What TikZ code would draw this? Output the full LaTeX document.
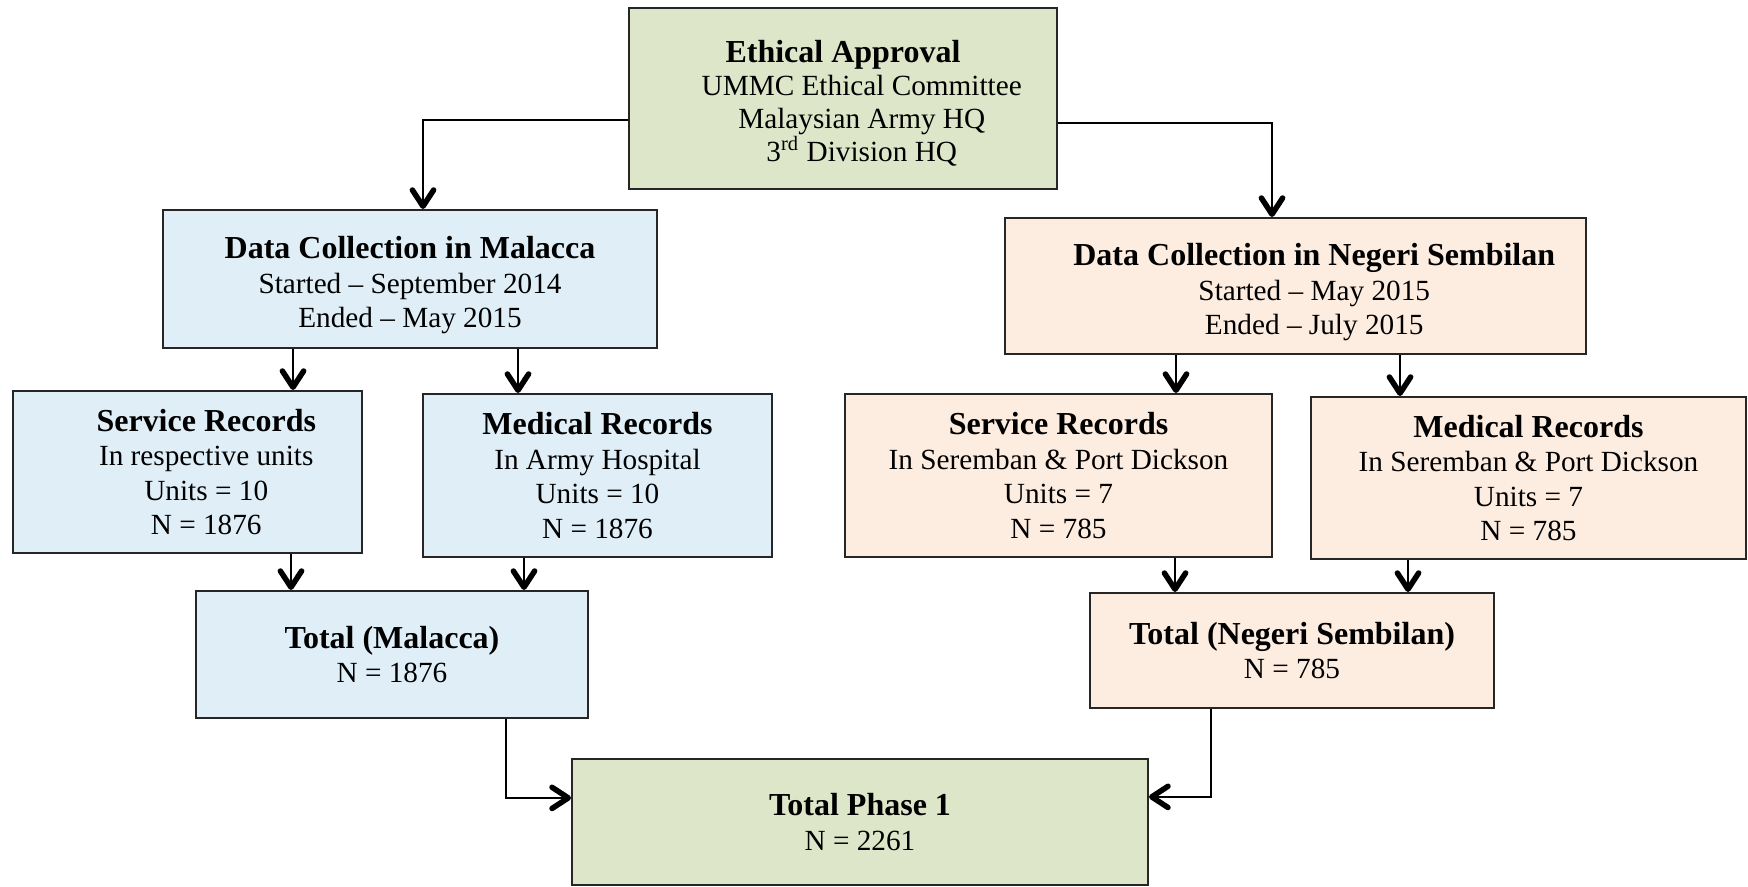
\documentclass[tikz,border=0pt]{standalone}
\usepackage{fontspec}
\setmainfont{Liberation Serif}
\usepackage{tikz}
\usetikzlibrary{arrows.meta}

\definecolor{approvalgreen}{RGB}{222,230,201}
\definecolor{malaccablue}{RGB}{223,238,247}
\definecolor{negeripeach}{RGB}{253,236,224}

\newcommand{\boxtitle}[1]{{\fontsize{12.8pt}{13.8pt}\selectfont\bfseries #1}}
\newcommand{\pushright}{\hspace*{15pt}}
\newcommand{\lowerit}{\rule{0pt}{14pt}}

\begin{document}
\begin{tikzpicture}[
	every node/.style={font=\fontsize{11.7pt}{13.8pt}\selectfont},
	stagebox/.style={draw=black!85, line width=0.8pt, align=center, inner sep=0pt},
	ethbox/.style={stagebox, fill=approvalgreen},
	mlkbox/.style={stagebox, fill=malaccablue},
	nsbox/.style={stagebox, fill=negeripeach},
	flow/.style={line width=1pt, -{Straight Barb[length=6.5pt,width=8.5pt,line width=2.2pt,round]}}
	]
		\useasboundingbox (0,0) rectangle (699.2pt,-354.4pt);

		\node[ethbox, font=\fontsize{11.7pt}{13.2pt}\selectfont, minimum width=171.2pt, minimum height=72.4pt] (ethics) at (337.2pt,-39.4pt)
			{\rule{0pt}{12.6pt}{\fontsize{12.8pt}{13.2pt}\selectfont\bfseries Ethical Approval}\\ \pushright UMMC Ethical Committee\\ \pushright Malaysian Army HQ\\ \pushright 3\textsuperscript{rd} Division HQ};

		\node[mlkbox, minimum width=197.6pt, minimum height=55.2pt] (mlk) at (164pt,-111.6pt)
			{\lowerit\boxtitle{Data Collection in Malacca}\\ Started -- September 2014\\ Ended -- May 2015};
		\node[mlkbox, minimum width=139.6pt, minimum height=64.8pt] (mlksvc) at (75pt,-188.8pt)
			{\pushright\boxtitle{Service Records}\\ \pushright In respective units\\ \pushright Units = 10\\ \pushright N = 1876};
		\node[mlkbox, minimum width=139.6pt, minimum height=65.2pt] (mlkmed) at (239pt,-190.2pt)
			{\boxtitle{Medical Records}\\ In Army Hospital\\ Units = 10\\ N = 1876};
		\node[mlkbox, minimum width=156.8pt, minimum height=50.8pt] (mlktot) at (156.8pt,-261.8pt)
			{\boxtitle{Total (Malacca)}\\ N = 1876};

		\node[nsbox, minimum width=232.4pt, minimum height=54.4pt] (ns) at (518.2pt,-114.4pt)
			{\lowerit\pushright\boxtitle{Data Collection in Negeri Sembilan}\\ \pushright Started -- May 2015\\ \pushright Ended -- July 2015};
		\node[nsbox, minimum width=170.8pt, minimum height=65.2pt] (nssvc) at (423.4pt,-190.2pt)
			{\boxtitle{Service Records}\\ In Seremban \& Port Dickson\\ Units = 7\\ N = 785};
		\node[nsbox, minimum width=174pt, minimum height=64.8pt] (nsmed) at (611.4pt,-191.2pt)
			{\boxtitle{Medical Records}\\ In Seremban \& Port Dickson\\ Units = 7\\ N = 785};
		\node[nsbox, minimum width=161.6pt, minimum height=46pt] (nstot) at (516.8pt,-260.2pt)
			{\boxtitle{Total (Negeri Sembilan)}\\ N = 785};

		\node[ethbox, minimum width=230.4pt, minimum height=50.3pt] (phase) at (344pt,-328.75pt)
			{\boxtitle{Total Phase 1}\\ N = 2261};

		% approval to both sites
		\draw[flow] ([yshift=-8.6pt]ethics.west) -| ([xshift=5.2pt]mlk.north);
		\draw[flow] ([yshift=-9.8pt]ethics.east) -| ([xshift=-9.4pt]ns.north);

		% Malacca
		\draw[flow] ([xshift=-46.8pt]mlk.south) -- ([xshift=-46.8pt]mlk.south |- mlksvc.north);
		\draw[flow] ([xshift=43.2pt]mlk.south) -- ([xshift=43.2pt]mlk.south |- mlkmed.north);
		\draw[flow] ([xshift=41.4pt]mlksvc.south) -- ([xshift=41.4pt]mlksvc.south |- mlktot.north);
		\draw[flow] ([xshift=-29.4pt]mlkmed.south) -- ([xshift=-29.4pt]mlkmed.south |- mlktot.north);

		% Negeri Sembilan
		\draw[flow] ([xshift=-47.8pt]ns.south) -- ([xshift=-47.8pt]ns.south |- nssvc.north);
		\draw[flow] ([xshift=41.8pt]ns.south) -- ([xshift=41.8pt]ns.south |- nsmed.north);
		\draw[flow] ([xshift=46.6pt]nssvc.south) -- ([xshift=46.6pt]nssvc.south |- nstot.north);
		\draw[flow] ([xshift=-48.2pt]nsmed.south) -- ([xshift=-48.2pt]nsmed.south |- nstot.north);

		% totals into phase 1
		\draw[flow] ([xshift=45.6pt]mlktot.south) |- ([yshift=9.6pt]phase.west);
		\draw[flow] ([xshift=-32.4pt]nstot.south) |- ([yshift=10pt]phase.east);
	\end{tikzpicture}
\end{document}
